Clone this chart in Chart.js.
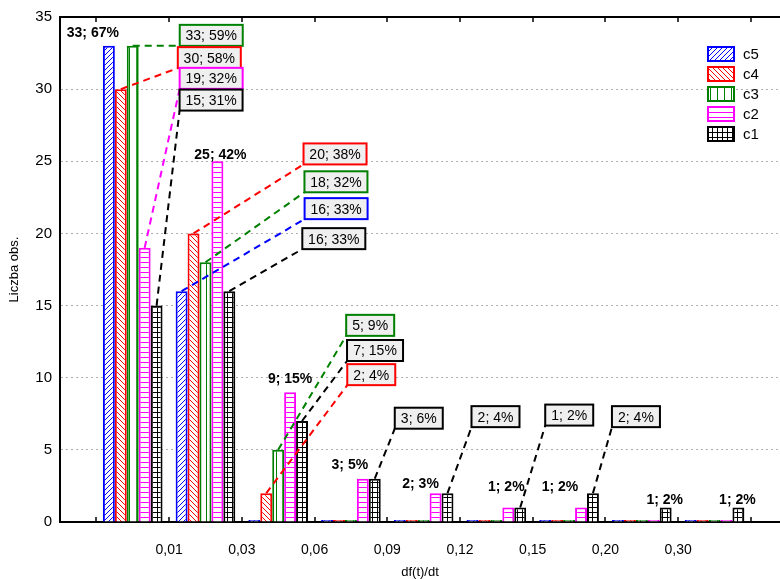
<!DOCTYPE html>
<html>
<head>
<meta charset="utf-8">
<script src="https://cdn.jsdelivr.net/npm/chart.js@4.4.0/dist/chart.umd.min.js"></script>
<style>
  html, body { margin: 0; padding: 0; background: #fff; overflow: hidden; }
</style>
</head>
<body>
<canvas id="chart" width="780" height="579"></canvas>
<script>
// class edges on the x axis (first and last edge have no label)
const edgeLabels = ['', '0,01', '0,03', '0,06', '0,09', '0,12', '0,15', '0,20', '0,30', ''];
const seriesNames = ['c5', 'c4', 'c3', 'c2', 'c1'];
const c5 = [33, 16, 0, 0, 0, 0, 0, 0, 0];
const c4 = [30, 20, 2, 0, 0, 0, 0, 0, 0];
const c3 = [33, 18, 5, 0, 0, 0, 0, 0, 0];
const c2 = [19, 25, 9, 3, 2, 1, 1, 0, 0];
const c1 = [15, 16, 7, 3, 2, 1, 2, 1, 1];
const series = [c5, c4, c3, c2, c1];

const colors = ['#0000ff', '#ff0000', '#008000', '#ff00ff', '#000000'];
const FONT = '"Liberation Sans", Arial, sans-serif';

// label placement: [series, class, boxed, dx, dy] offsets from the bar top
const callouts = [
  [0, 0, false, -16, -13],
  [2, 0, true, 47, 0],
  [1, 0, true, 57, -21],
  [3, 0, true, 35, -159],
  [4, 0, true, 23, -195],
  [3, 1, false, 3, -6],
  [1, 1, true, 110, -69],
  [2, 1, true, 99, -70],
  [0, 1, true, 123, -72],
  [4, 1, true, 73, -42],
  [3, 2, false, 0, -13],
  [2, 2, true, 68, -114],
  [4, 2, true, 45, -60],
  [1, 2, true, 81, -108],
  [3, 3, false, -13, -14],
  [4, 3, true, 20, -50],
  [3, 4, false, -15, -9],
  [4, 4, true, 24, -66],
  [3, 5, false, -2, -20],
  [4, 5, true, 25, -82],
  [3, 6, false, -21, -20],
  [4, 6, true, 19, -66],
  [4, 7, false, -1, -7],
  [4, 8, false, -1, -7]
];

function makePattern(color, kind) {
  const sizes = { up: [5, 5], down: [5, 5], vert: [7, 7], horiz: [5, 5], grid: [5, 5] };
  const [w, h] = sizes[kind];
  const c = document.createElement('canvas');
  c.width = w; c.height = h;
  const g = c.getContext('2d');
  g.fillStyle = '#fff';
  g.fillRect(0, 0, w, h);
  g.strokeStyle = color;
  g.lineWidth = 1;
  g.beginPath();
  if (kind === 'up') {
    g.moveTo(-1, h + 1); g.lineTo(w + 1, -1);
    g.moveTo(-1, 1); g.lineTo(1, -1);
    g.moveTo(w - 1, h + 1); g.lineTo(w + 1, h - 1);
  } else if (kind === 'down') {
    g.moveTo(-1, -1); g.lineTo(w + 1, h + 1);
    g.moveTo(-1, h - 1); g.lineTo(1, h + 1);
    g.moveTo(w - 1, -1); g.lineTo(w + 1, 1);
  } else if (kind === 'vert') {
    g.moveTo(3.5, 0); g.lineTo(3.5, h);
  } else if (kind === 'horiz') {
    g.moveTo(0, 2.5); g.lineTo(w, 2.5);
  } else {
    g.moveTo(2.5, 0); g.lineTo(2.5, h);
    g.moveTo(0, 2.5); g.lineTo(w, 2.5);
  }
  g.stroke();
  return g.createPattern(c, 'repeat');
}

const kinds = ['up', 'down', 'vert', 'horiz', 'grid'];
const patterns = kinds.map((k, i) => makePattern(colors[i], k));

const totals = series.map(d => d.reduce((a, b) => a + b, 0));

const decorations = {
  id: 'decorations',
  afterDatasetsDraw(chart) {
    const { ctx, chartArea: a, scales: { x } } = chart;
    ctx.save();

    // top frame and inner tick marks at class edges
    ctx.strokeStyle = '#000';
    ctx.lineWidth = 2;
    ctx.beginPath();
    ctx.moveTo(a.left, a.top);
    ctx.lineTo(a.right, a.top);
    ctx.stroke();
    ctx.lineWidth = 1.5;
    ctx.beginPath();
    for (let k = 0; k < edgeLabels.length; k++) {
      const px = Math.round(x.getPixelForValue(k));
      ctx.moveTo(px, a.bottom);
      ctx.lineTo(px, a.bottom - 5);
      ctx.moveTo(px, a.top);
      ctx.lineTo(px, a.top + 5);
    }
    ctx.stroke();

    // value labels and callout boxes
    ctx.textAlign = 'center';
    ctx.textBaseline = 'middle';
    callouts.forEach(([s, g, boxed, dx, dy]) => {
      const bar = chart.getDatasetMeta(s).data[g];
      const v = series[s][g];
      const text = v + '; ' + Math.round(v / totals[s] * 100) + '%';
      const ax = bar.x, ay = bar.y;
      if (!boxed) {
        ctx.font = 'bold 14px ' + FONT;
        ctx.fillStyle = '#000';
        ctx.fillText(text, ax + dx, ay + dy);
        return;
      }
      ctx.font = '14px ' + FONT;
      const w = Math.round(ctx.measureText(text).width + 12), h = 21;
      const bx = ax + dx, by = ay + dy;
      ctx.strokeStyle = colors[s];
      ctx.lineWidth = 2;
      ctx.setLineDash([7, 5]);
      ctx.beginPath();
      ctx.moveTo(ax, ay);
      ctx.lineTo(bx, by);
      ctx.stroke();
      ctx.setLineDash([]);
      ctx.fillStyle = '#efefef';
      ctx.fillRect(bx, by - h, w, h);
      ctx.strokeRect(bx, by - h, w, h);
      ctx.fillStyle = '#000';
      ctx.fillText(text, bx + w / 2, by - h / 2 + 1);
    });

    // legend inside the plot
    ctx.textAlign = 'left';
    ctx.font = '15px ' + FONT;
    seriesNames.forEach((name, i) => {
      const lx = a.right - 73, ly = a.top + 29 + i * 20;
      ctx.fillStyle = patterns[i];
      ctx.fillRect(lx, ly, 28, 16);
      ctx.strokeStyle = colors[i];
      ctx.lineWidth = 2;
      ctx.strokeRect(lx + 1, ly + 1, 26, 14);
      ctx.fillStyle = '#000';
      ctx.fillText(name, lx + 36, ly + 9);
    });
    ctx.restore();
  }
};

new Chart(document.getElementById('chart'), {
  type: 'bar',
  data: {
    datasets: seriesNames.map((name, s) => ({
      label: name,
      data: series[s].map((v, g) => ({ x: g + 0.5, y: v })),
      backgroundColor: patterns[s],
      borderColor: colors[s],
      borderWidth: 2,
      borderSkipped: 'start',
      minBarLength: 2,
      categoryPercentage: 0.82,
      barPercentage: 1
    }))
  },
  options: {
    responsive: false,
    animation: false,
    layout: { padding: { top: 15, right: 0, bottom: 0, left: 0 } },
    plugins: {
      legend: { display: false },
      tooltip: { enabled: false }
    },
    scales: {
      x: {
        type: 'linear',
        min: -0.5,
        max: 9.4,
        offset: false,
        afterBuildTicks: s => { s.ticks = edgeLabels.map((_, k) => ({ value: k })); },
        afterFit: s => { s.height = 57; },
        ticks: {
          callback: (v, i) => edgeLabels[i],
          autoSkip: false,
          maxRotation: 0,
          padding: 12,
          color: '#000',
          font: { size: 14, family: FONT }
        },
        grid: { display: false },
        border: { color: '#000', width: 2 },
        title: {
          display: true,
          text: 'df(t)/dt',
          color: '#000',
          padding: { top: 0, bottom: -1 },
          font: { size: 13, family: FONT }
        }
      },
      y: {
        min: 0,
        max: 35,
        afterFit: s => { s.width = 60; },
        ticks: {
          stepSize: 5,
          padding: 8,
          color: '#000',
          font: { size: 15, family: FONT }
        },
        grid: { color: '#b0b0b0', lineWidth: 1, drawTicks: false },
        border: { color: '#000', width: 2, dash: [2, 3] },
        title: {
          display: true,
          text: 'Liczba obs.',
          color: '#000',
          padding: { top: 7, bottom: 0 },
          font: { size: 13, family: FONT }
        }
      }
    }
  },
  plugins: [decorations]
});
</script>
</body>
</html>
